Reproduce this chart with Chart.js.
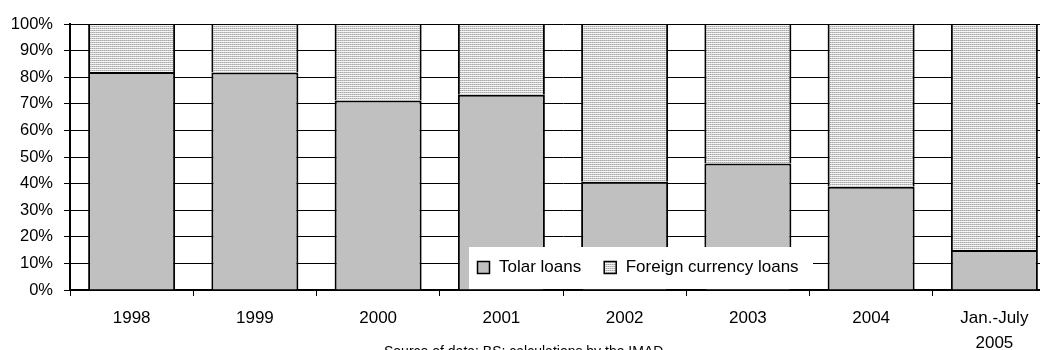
<!DOCTYPE html>
<html>
<head>
<meta charset="utf-8">
<script src="https://cdn.jsdelivr.net/npm/chart.js@4/dist/chart.umd.min.js"></script>
<style>
  html, body { margin: 0; padding: 0; background: #fff; overflow: hidden; width: 1040px; height: 350px; }
  #wrap { position: relative; width: 1060px; height: 360px; }
  #source {
    position: absolute; left: 384px; top: 344px;
    font: 14px Arial, "Liberation Sans", sans-serif; line-height: 14px;
    color: #000; white-space: nowrap;
  }
</style>
</head>
<body>
<div id="wrap">
  <canvas id="c" width="1060" height="360"></canvas>
  <div id="source">Source of data: BS; calculations by the IMAD.</div>
</div>
<script>
// Structure of new loans by currency, share in %
const categories = ['1998', '1999', '2000', '2001', '2002', '2003', '2004', ['Jan.-July', '2005']];
const tolarLoans = [82.0, 81.8, 71.2, 73.4, 40.7, 47.6, 38.8, 15.0];
const foreignCurrencyLoans = [18.0, 18.2, 28.8, 26.6, 59.3, 52.4, 61.2, 85.0];
const yTickLabels = ['0%', '10%', '20%', '30%', '40%', '50%', '60%', '70%', '80%', '90%', '100%'];
const seriesNames = ['Tolar loans', 'Foreign currency loans'];

const FONT = 'Arial, "Liberation Sans", sans-serif';

// fine striped fill for the foreign currency share
function stripedFill(ctx) {
  const tile = document.createElement('canvas');
  tile.width = 4; tile.height = 2;
  const g = tile.getContext('2d');
  g.fillStyle = '#f4f4f4'; g.fillRect(0, 0, 4, 2);
  g.fillStyle = '#cacaca'; g.fillRect(0, 0, 4, 1);
  g.fillStyle = '#a6a6a6'; g.fillRect(0, 0, 1, 1); g.fillRect(2, 0, 1, 1);
  return ctx.createPattern(tile, 'repeat');
}

const canvas = document.getElementById('c');
const ctx = canvas.getContext('2d');
const fills = ['#c0c0c0', stripedFill(ctx)];

// legend box sitting inside the plot, above the bars
const boxLegend = {
  id: 'boxLegend',
  afterDatasetsDraw(chart) {
    const c = chart.ctx;
    const area = chart.chartArea;
    const left = area.left + 399, top = area.top + 223;
    const width = 344, height = 42;
    c.save();
    c.fillStyle = '#ffffff';
    c.fillRect(left, top, width, height);
    c.font = '17px ' + FONT;
    c.textBaseline = 'alphabetic';
    c.textAlign = 'left';
    let x = left + 8.5;
    chart.data.datasets.forEach((ds) => {
      const sy = top + 14.5;
      c.fillStyle = ds.backgroundColor;
      c.fillRect(x, sy, 12, 12);
      c.lineWidth = 1.5;
      c.strokeStyle = '#000';
      c.strokeRect(x, sy, 12, 12);
      c.fillStyle = '#000';
      c.fillText(ds.label, x + 21.5, top + 25);
      x += 21.5 + c.measureText(ds.label).width + 23;
    });
    c.restore();
  }
};

new Chart(canvas, {
  type: 'bar',
  data: {
    labels: categories,
    datasets: [
      {
        label: seriesNames[0],
        data: tolarLoans,
        backgroundColor: fills[0],
        borderColor: '#000',
        borderWidth: { top: 2, left: 2, right: 2, bottom: 0 },
        borderSkipped: false
      },
      {
        label: seriesNames[1],
        data: foreignCurrencyLoans,
        backgroundColor: fills[1],
        borderColor: '#000',
        borderWidth: { top: 1, left: 2, right: 2, bottom: 0 },
        borderSkipped: false
      }
    ]
  },
  options: {
    responsive: false,
    animation: false,
    devicePixelRatio: 1,
    layout: { padding: { left: 0, right: 4, top: 24, bottom: 0 } },
    datasets: { bar: { barPercentage: 0.706, categoryPercentage: 1 } },
    plugins: {
      legend: { display: false },
      tooltip: { enabled: false },
      title: { display: false }
    },
    scales: {
      x: {
        stacked: true,
        grid: { offset: true, drawOnChartArea: false, drawTicks: true, tickLength: 6, color: '#000', lineWidth: 1 },
        border: { color: '#000', width: 2 },
        ticks: {
          color: '#000',
          font: { family: FONT, size: 17, lineHeight: 1.47 },
          padding: 9.5,
          maxRotation: 0,
          autoSkip: false
        },
        afterFit(scale) { scale.height = 70; }
      },
      y: {
        stacked: true,
        min: 0,
        max: 100,
        grid: { color: '#000', lineWidth: 1, tickLength: 6, drawTicks: true },
        border: { color: '#000', width: 2 },
        ticks: {
          stepSize: 10,
          color: '#000',
          font: { family: FONT, size: 16.5 },
          padding: 11,
          callback: (v, i) => yTickLabels[i]
        },
        afterFit(scale) { scale.width = 70; }
      }
    }
  },
  plugins: [boxLegend]
});
</script>
</body>
</html>
